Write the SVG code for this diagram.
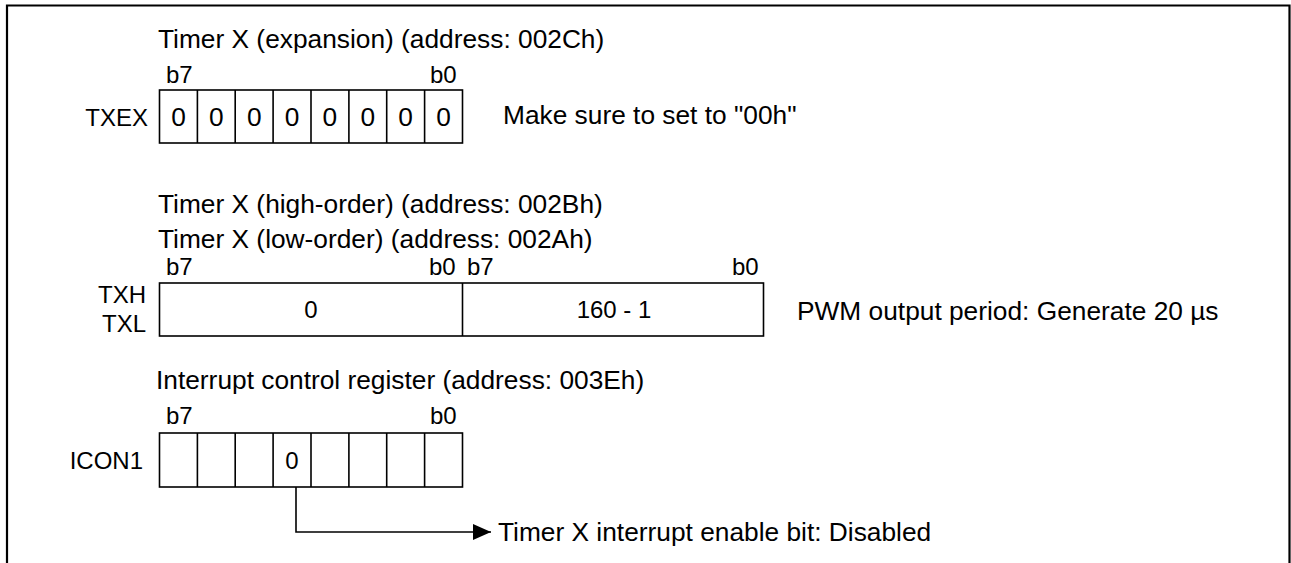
<svg xmlns="http://www.w3.org/2000/svg" width="1291" height="563" viewBox="0 0 1291 563">
<defs>
<style>
text{font-family:"Liberation Sans",Arial,sans-serif;font-size:26.3px;fill:#000}
.s{font-size:24px}
.c{text-anchor:middle}
.r{text-anchor:end}
.box{fill:#fff;stroke:#000;stroke-width:1.6}
.ln{stroke:#000;stroke-width:1.6;fill:none}
.frame{stroke:#000;stroke-width:2.2;fill:none}
</style>
<marker id="ah" viewBox="0 0 18 16" refX="18" refY="8" markerWidth="18" markerHeight="16" markerUnits="userSpaceOnUse" orient="auto"><path d="M0,0 L18,8 L0,16 z" fill="#000"/></marker>
</defs>
<rect width="1291" height="563" fill="#fff"/>
<path class="frame" d="M7,563 V5.5 H1289.5 V563"/>
<g id="txex">
<text x="158" y="48">Timer X (expansion) (address: 002Ch)</text>
<text class="s" x="166" y="83">b7</text>
<text class="s" x="430" y="83">b0</text>
<text class="s r" x="148" y="126">TXEX</text>
<rect class="box" x="159.5" y="90" width="303" height="53"/>
<path class="ln" d="M197.4,90V143M235.2,90V143M273.1,90V143M311,90V143M348.9,90V143M386.7,90V143M424.6,90V143"/>
<g class="s c"><text x="178.5" y="126">0</text><text x="216.3" y="126">0</text><text x="254.2" y="126">0</text><text x="292" y="126">0</text><text x="329.9" y="126">0</text><text x="367.8" y="126">0</text><text x="405.6" y="126">0</text><text x="443.5" y="126">0</text></g>
<text x="503" y="124">Make sure to set to "00h"</text>
</g>
<g id="txhl">
<text x="158" y="213">Timer X (high-order) (address: 002Bh)</text>
<text x="158" y="248">Timer X (low-order) (address: 002Ah)</text>
<text class="s" x="166" y="275">b7</text>
<text class="s" x="429" y="275">b0</text>
<text class="s" x="467" y="275">b7</text>
<text class="s" x="732" y="275">b0</text>
<text class="s r" x="146" y="303">TXH</text>
<text class="s r" x="146" y="332">TXL</text>
<rect class="box" x="159.5" y="283" width="604" height="53"/>
<path class="ln" d="M462.5,283V336"/>
<text class="s c" x="311" y="318">0</text>
<text class="s c" x="614" y="318">160 - 1</text>
<text x="797" y="320">PWM output period: Generate 20 µs</text>
</g>
<g id="icon1">
<text x="156" y="389">Interrupt control register (address: 003Eh)</text>
<text class="s" x="166" y="424">b7</text>
<text class="s" x="430" y="424">b0</text>
<text class="s r" x="143" y="469">ICON1</text>
<rect class="box" x="159.5" y="433" width="303" height="54"/>
<path class="ln" d="M197.4,433V487M235.2,433V487M273.1,433V487M311,433V487M348.9,433V487M386.7,433V487M424.6,433V487"/>
<text class="s c" x="292" y="469">0</text>
</g>
<g id="connectors">
<path class="ln" d="M296,487V532H491" marker-end="url(#ah)"/>
</g>
<g id="note">
<text x="498" y="541">Timer X interrupt enable bit: Disabled</text>
</g>
</svg>
